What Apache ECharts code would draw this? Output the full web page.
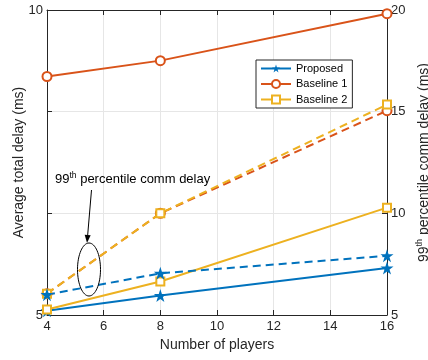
<!DOCTYPE html>
<html><head><meta charset="utf-8">
<script src="https://cdn.jsdelivr.net/npm/echarts@6/dist/echarts.min.js"></script>
<style>html,body{margin:0;padding:0;background:#fff}#c{width:428px;height:360px}</style>
</head><body><div id="c"></div>
<script>
const players = [4, 8, 16];
// Average total delay (ms) - left axis
const avgProposed = [5.07, 5.32, 5.77];
const avgBaseline1 = [8.91, 9.17, 9.94];
const avgBaseline2 = [5.09, 5.55, 6.76];
// 99th percentile comm delay (ms) - right axis
const p99Proposed = [6.0, 7.05, 7.91];
const p99Baseline1 = [6.05, 10.0, 15.05];
const p99Baseline2 = [6.05, 10.0, 15.35];
const xTicks = [4, 6, 8, 10, 12, 14, 16];
const leftTicks = [5, 10];
const rightTicks = [5, 10, 15, 20];

const BLUE = '#0072BD', ORANGE = '#D95319', YELLOW = '#EDB120';
const STAR = 'path://M50,0 L61.8,35.3 L98.9,35.3 L69,57.3 L80.3,92.7 L50,70.8 L19.7,92.7 L31,57.3 L1.1,35.3 L38.2,35.3 Z';
const FONT = 'Liberation Sans, Arial, sans-serif';

function pts(xs, ys) { return xs.map((x, i) => [x, ys[i]]); }

const chart = echarts.init(document.getElementById('c'));
function mk(name, data, color, symbol, size, yIdx, dashed) {
  return {
    name, type: 'line', data, yAxisIndex: yIdx, symbol, symbolSize: size,
    showAllSymbol: true, animation: false,
    lineStyle: { color, width: 2, type: dashed ? [8, 5] : 'solid' },
    itemStyle: { color, borderColor: color, borderWidth: symbol === STAR ? 0 : 2 },
    z: 3
  };
}

const axisCommon = {
  axisLine: { show: true, lineStyle: { color: '#262626', width: 1 } },
  axisTick: { show: true, inside: true, length: 5, lineStyle: { color: '#262626' } },
  axisLabel: { color: '#262626', fontSize: 13, fontFamily: FONT }
};
const nameStyle = { fontSize: 14, color: '#262626', fontFamily: FONT };

chart.setOption({
  animation: false,
  textStyle: { fontFamily: FONT },
  grid: { left: 47, right: 41, top: 10, bottom: 45, containLabel: false, outerBoundsMode: 'none' },
  legend: {
    orient: 'vertical', left: 256, top: 60, data: ['Proposed', 'Baseline 1', 'Baseline 2'],
    backgroundColor: '#fff', borderColor: '#262626', borderWidth: 1, padding: [3, 5, 3, 4],
    itemWidth: 30, itemHeight: 10, itemGap: 4.5,
    textStyle: { fontSize: 11, color: '#000', fontFamily: FONT }
  },
  xAxis: [
    Object.assign({}, axisCommon, {
      type: 'value', min: 4, max: 16, interval: 2,
      name: 'Number of players', nameLocation: 'middle', nameGap: 23, nameMoveOverlap: false,
      nameTextStyle: nameStyle,
      axisLabel: Object.assign({}, axisCommon.axisLabel, { margin: 5, formatter: v => xTicks.includes(v) ? String(v) : '' }),
      splitLine: { show: true, lineStyle: { color: '#e6e6e6', width: 1 } }
    }),
    Object.assign({}, axisCommon, {
      type: 'value', min: 4, max: 16, interval: 2, position: 'top',
      axisLabel: { show: false }, splitLine: { show: false }
    })
  ],
  yAxis: [
    Object.assign({}, axisCommon, {
      type: 'value', min: 5, max: 10, interval: 5 / 3, position: 'left',
      name: 'Average total delay (ms)', nameLocation: 'middle', nameGap: 21, nameRotate: 90, nameMoveOverlap: false,
      nameTextStyle: nameStyle,
      axisLabel: Object.assign({}, axisCommon.axisLabel, { margin: 4, formatter: v => leftTicks.some(t => Math.abs(t - v) < 1e-6) ? String(Math.round(v)) : '' }),
      splitLine: { show: false }
    }),
    Object.assign({}, axisCommon, {
      type: 'value', min: 5, max: 20, interval: 5, position: 'right',
      name: '{n|99}{s|th}{n| percentile comm delay (ms)}', nameLocation: 'middle', nameGap: 28, nameRotate: 90, nameMoveOverlap: false,
      nameTextStyle: Object.assign({}, nameStyle, {
        rich: { n: nameStyle, s: { fontSize: 9, color: '#262626', fontFamily: FONT, verticalAlign: 'top', padding: [0, 0, 9, 0] } } }),
      axisLabel: Object.assign({}, axisCommon.axisLabel, { margin: 4, formatter: v => rightTicks.includes(v) ? String(v) : '' }),
      splitLine: { show: true, lineStyle: { color: '#e6e6e6', width: 1 } }
    })
  ],
  series: [
    mk('Proposed', pts(players, avgProposed), BLUE, STAR, 13, 0, false),
    mk('Baseline 1', pts(players, avgBaseline1), ORANGE, 'emptyCircle', 9, 0, false),
    mk('Baseline 2', pts(players, avgBaseline2), YELLOW, 'emptyRect', 8, 0, false),
    mk('Baseline 1 (99th)', pts(players, p99Baseline1), ORANGE, 'emptyCircle', 9, 1, true),
    mk('Baseline 2 (99th)', pts(players, p99Baseline2), YELLOW, 'emptyRect', 8, 1, true),
    mk('Proposed (99th)', pts(players, p99Proposed), BLUE, STAR, 13, 1, true)
  ]
});

// annotation
const tip = [87, 243], tail = [91.5, 190];
const dx = tip[0] - tail[0], dy = tip[1] - tail[1], L = Math.hypot(dx, dy);
const ux = dx / L, uy = dy / L, hl = 8, hw = 3;
const bx = tip[0] - ux * hl, by = tip[1] - uy * hl;
chart.setOption({
  graphic: [
    { type: 'text', left: 55, top: 171, z: 10,
      style: { text: '{n|99}{s|th}{n| percentile comm delay}', rich: {
        n: { fontSize: 13, fill: '#000', fontFamily: FONT }, s: { fontSize: 8.5, fill: '#000', fontFamily: FONT, verticalAlign: 'top', padding: [0, 0, 8, 0] } } } },
    { type: 'line', z: 10, shape: { x1: tail[0], y1: tail[1], x2: bx, y2: by }, style: { stroke: '#000', lineWidth: 1 } },
    { type: 'polygon', z: 10, shape: { points: [tip, [bx - uy * hw, by + ux * hw], [bx + uy * hw, by - ux * hw]] }, style: { fill: '#000' } },
    { type: 'ellipse', z: 10, shape: { cx: 89, cy: 269.5, rx: 11.5, ry: 26.5 }, style: { fill: 'none', stroke: '#000', lineWidth: 1 } }
  ]
});
</script></body></html>
